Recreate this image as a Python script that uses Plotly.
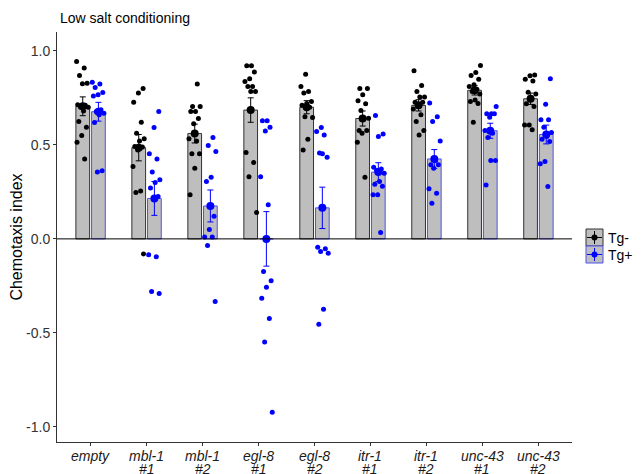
import plotly.graph_objects as go

categories = ["empty", "mbl-1 #1", "mbl-1 #2", "egl-8 #1", "egl-8 #2",
              "itr-1 #1", "itr-1 #2", "unc-43 #1", "unc-43 #2"]
gene_labels = ["empty", "mbl-1", "mbl-1", "egl-8", "egl-8", "itr-1", "itr-1", "unc-43", "unc-43"]
line_labels = ["", "#1", "#2", "#1", "#2", "#1", "#2", "#1", "#2"]

mean_neg = [0.705, 0.485, 0.56, 0.685, 0.70, 0.64, 0.71, 0.79, 0.745]
mean_pos = [0.676, 0.215, 0.175, 0.0, 0.165, 0.355, 0.425, 0.575, 0.555]
sem_neg = [0.05, 0.07, 0.05, 0.065, 0.035, 0.04, 0.03, 0.025, 0.03]
sem_pos = [0.05, 0.09, 0.085, 0.145, 0.11, 0.05, 0.05, 0.04, 0.05]

points_neg = [
    [0.943, 0.908, 0.869, 0.828, 0.825, 0.713, 0.71, 0.70, 0.70, 0.68, 0.624, 0.594, 0.55, 0.514, 0.425],
    [0.80, 0.775, 0.727, 0.62, 0.562, 0.532, 0.521, 0.491, 0.488, 0.473, 0.385, 0.255, 0.246, -0.08],
    [0.823, 0.704, 0.704, 0.677, 0.677, 0.64, 0.612, 0.532, 0.52, 0.452, 0.452, 0.376, 0.234],
    [0.92, 0.92, 0.887, 0.851, 0.837, 0.81, 0.81, 0.784, 0.784, 0.459, 0.406, 0.331, 0.14],
    [0.876, 0.81, 0.784, 0.775, 0.73, 0.72, 0.71, 0.70, 0.65, 0.645, 0.53, 0.473],
    [0.80, 0.80, 0.766, 0.734, 0.718, 0.682, 0.642, 0.642, 0.576, 0.576, 0.562, 0.514, 0.328],
    [0.894, 0.816, 0.784, 0.754, 0.754, 0.727, 0.727, 0.704, 0.69, 0.66, 0.624, 0.576, 0.553],
    [0.922, 0.885, 0.869, 0.849, 0.819, 0.81, 0.796, 0.784, 0.77, 0.739, 0.73, 0.72, 0.62],
    [0.872, 0.867, 0.849, 0.84, 0.78, 0.77, 0.743, 0.718, 0.704, 0.606, 0.606, 0.58],
]
points_pos = [
    [0.833, 0.823, 0.805, 0.778, 0.766, 0.76, 0.686, 0.677, 0.668, 0.66, 0.619, 0.362, 0.355],
    [0.677, 0.592, 0.452, 0.425, 0.355, 0.314, 0.30, 0.27, 0.225, 0.215, -0.085, -0.095, -0.28, -0.29],
    [0.539, 0.496, 0.464, 0.328, 0.305, 0.12, 0.05, 0.01, 0.01, -0.035, -0.333],
    [0.628, 0.628, 0.594, 0.574, 0.331, 0.181, -0.174, -0.223, -0.257, -0.316, -0.424, -0.548, -0.922],
    [0.592, 0.571, 0.553, 0.456, 0.434, 0.452, -0.044, -0.053, -0.067, -0.076, -0.374, -0.454],
    [0.656, 0.557, 0.544, 0.381, 0.372, 0.363, 0.349, 0.305, 0.29, 0.28, 0.234, 0.234, 0.034],
    [0.722, 0.65, 0.624, 0.521, 0.417, 0.394, 0.394, 0.376, 0.266, 0.243, 0.19],
    [0.704, 0.665, 0.665, 0.665, 0.647, 0.576, 0.562, 0.539, 0.417, 0.417, 0.287],
    [0.851, 0.716, 0.633, 0.633, 0.594, 0.566, 0.544, 0.53, 0.518, 0.411, 0.399, 0.278],
]

OFF = 0.14
BW = 0.245
GREY = "#BEBEBE"
BLUE = "#0000FF"
BLUE_EDGE = "#5050F0"

n = len(categories)
x_neg = [i - OFF for i in range(n)]
x_pos = [i + OFF for i in range(n)]

fig = go.Figure()
fig.add_trace(go.Bar(x=x_neg, y=mean_neg, width=BW, marker=dict(color=GREY, line=dict(color="#333333", width=1)),
                     showlegend=False, hoverinfo="skip"))
fig.add_trace(go.Bar(x=x_pos, y=mean_pos, width=BW, marker=dict(color=GREY, line=dict(color=BLUE_EDGE, width=1)),
                     showlegend=False, hoverinfo="skip"))


def jitter(k):
    return (((k * 0.6180339) % 1.0) - 0.5) * 0.22


for pts, xs, col in ((points_neg, x_neg, "black"), (points_pos, x_pos, BLUE)):
    px, py = [], []
    for i, grp in enumerate(pts):
        for k, v in enumerate(grp):
            px.append(xs[i] + jitter(k + 3 * i))
            py.append(v)
    fig.add_trace(go.Scatter(x=px, y=py, mode="markers", marker=dict(color=col, size=5),
                             showlegend=False, hoverinfo="skip"))

fig.add_trace(go.Scatter(x=x_neg, y=mean_neg, mode="markers", marker=dict(color="black", size=8),
                         error_y=dict(type="data", array=sem_neg, color="black", thickness=1, width=3),
                         showlegend=False, hoverinfo="skip"))
fig.add_trace(go.Scatter(x=x_pos, y=mean_pos, mode="markers", marker=dict(color=BLUE, size=8),
                         error_y=dict(type="data", array=sem_pos, color=BLUE, thickness=1, width=3),
                         showlegend=False, hoverinfo="skip"))

fig.add_hline(y=0, line=dict(color="black", width=1))

# page is rendered with an 8px body margin
PAGE_OFF = 8
W, H = 625, 466
pl, pr, pt, pb = 49, 61, 24, 32
pw, ph = W - pl - pr, H - pt - pb

fig.update_layout(
    width=W, height=H,
    margin=dict(l=pl, r=pr, t=pt, b=pb),
    plot_bgcolor="white", paper_bgcolor="white",
    barmode="overlay",
    font=dict(family="Liberation Sans, Arial, sans-serif", size=14, color="#333333"),
    showlegend=False,
    xaxis=dict(range=[-0.6, 8.6], tickvals=list(range(n)), showticklabels=False,
               showline=True, linecolor="#333333", linewidth=1, ticks="outside", ticklen=3,
               tickcolor="#333333", showgrid=False, zeroline=False, automargin=False),
    yaxis=dict(range=[-1.08, 1.10], tickvals=[-1.0, -0.5, 0.0, 0.5, 1.0],
               ticktext=["-1.0", "-0.5", "0.0", "0.5", "1.0"],
               showline=True, linecolor="#333333", linewidth=1, ticks="outside", ticklen=3,
               tickcolor="#333333", showgrid=False, zeroline=False, automargin=False,
               title=dict(text="Chemotaxis index", font=dict(size=16, color="black"), standoff=2),
               tickfont=dict(size=14, color="#333333")),
    title=dict(text="Low salt conditioning", x=(60 - PAGE_OFF) / W, xanchor="left",
               y=1 - (18 - PAGE_OFF) / H, yanchor="middle",
               font=dict(size=14, color="black")),
)


def px2paper(x, y):
    return (x - PAGE_OFF - pl) / pw, (H - pb - (y - PAGE_OFF)) / ph


# two-line category labels (x in data units, y in paper units)
_, y_line1 = px2paper(0, 456)
_, y_line2 = px2paper(0, 469)
for i in range(n):
    fig.add_annotation(xref="x", yref="paper", x=i, y=y_line1, text="<i>" + gene_labels[i] + "</i>",
                       showarrow=False, xanchor="center", yanchor="middle",
                       font=dict(size=14, color="#1a1a1a"))
    if line_labels[i]:
        fig.add_annotation(xref="x", yref="paper", x=i, y=y_line2, text="<i>" + line_labels[i] + "</i>",
                           showarrow=False, xanchor="center", yanchor="middle",
                           font=dict(size=14, color="#1a1a1a"))

LX = 586  # left edge of legend keys (page pixels)
legend_items = [("Tg-", "#333333", "black", 229), ("Tg+", BLUE_EDGE, BLUE, 246)]
for label, edge, dot, ytop in legend_items:
    x0, y1 = px2paper(LX, ytop)
    x1, y0 = px2paper(LX + 17, ytop + 17)
    fig.add_shape(type="rect", xref="paper", yref="paper", x0=x0, x1=x1, y0=y0, y1=y1,
                  fillcolor=GREY, line=dict(color=edge, width=1), layer="above")
    cx, cy = px2paper(LX + 8.5, ytop + 8.5)
    tx, ty = px2paper(LX + 8.5, ytop + 2)
    bx, by = px2paper(LX + 8.5, ytop + 15)
    fig.add_shape(type="line", xref="paper", yref="paper", x0=cx, x1=cx, y0=by, y1=ty,
                  line=dict(color=dot, width=1), layer="above")
    lx0, _ = px2paper(LX + 1, 0)
    lx1, _ = px2paper(LX + 16, 0)
    fig.add_shape(type="line", xref="paper", yref="paper", x0=lx0, x1=lx1, y0=cy, y1=cy,
                  line=dict(color=dot, width=1), layer="above")
    dx0, dy1 = px2paper(LX + 5.5, ytop + 5.5)
    dx1, dy0 = px2paper(LX + 11.5, ytop + 11.5)
    fig.add_shape(type="circle", xref="paper", yref="paper", x0=dx0, x1=dx1, y0=dy0, y1=dy1,
                  fillcolor=dot, line=dict(color=dot, width=0), layer="above")
    ax, ay = px2paper(LX + 20, ytop + 8.5)
    fig.add_annotation(xref="paper", yref="paper", x=ax, y=ay, text=label, showarrow=False,
                       xanchor="left", yanchor="middle", font=dict(size=14, color="black"))

fig.write_html("out.html")
